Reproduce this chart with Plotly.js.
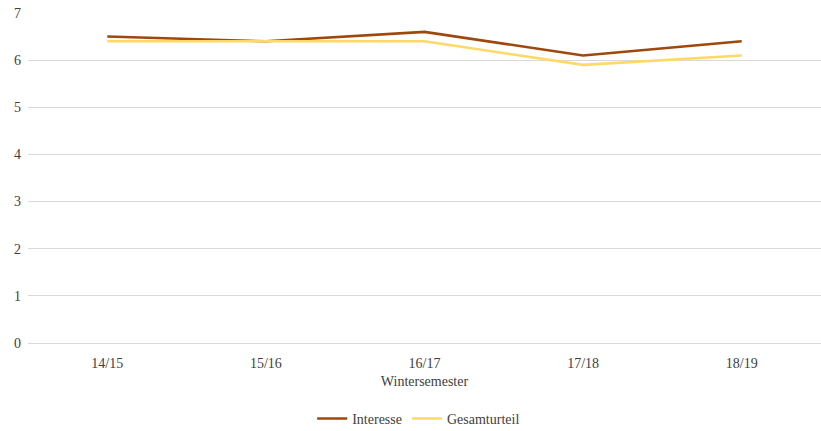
<!DOCTYPE html>
<html>
<head>
<meta charset="utf-8">
<script src="https://cdn.plot.ly/plotly-3.0.1.min.js"></script>
<style>html,body{margin:0;padding:0;background:#fff;}#chart{width:821px;height:431px;}</style>
</head>
<body>
<div id="chart"></div>
<script>
var categories = ["14/15", "15/16", "16/17", "17/18", "18/19"];
var interesse = [6.5, 6.4, 6.6, 6.1, 6.4];
var gesamturteil = [6.4, 6.4, 6.4, 5.9, 6.1];
var yTicks = [0, 1, 2, 3, 4, 5, 6, 7];

var font = {family: "Times New Roman, Liberation Serif, DejaVu Serif, serif", size: 14, color: "#404040"};

var traces = [
  {x: categories, y: interesse, name: "Interesse", type: "scatter", mode: "lines",
   line: {color: "#9E480E", width: 2.6}},
  {x: categories, y: gesamturteil, name: "Gesamturteil", type: "scatter", mode: "lines",
   line: {color: "#FFD966", width: 2.6}}
];

var layout = {
  width: 821, height: 431,
  margin: {l: 28, r: 0, t: 13, b: 88, autoexpand: false},
  paper_bgcolor: "#fff", plot_bgcolor: "#fff",
  font: font,
  showlegend: true,
  legend: {orientation: "h", x: 0.51, xref: "container", xanchor: "center",
           y: 0.028, yref: "container", yanchor: "middle",
           font: font, itemwidth: 30, tracegroupgap: 0},
  xaxis: {type: "category", range: [-0.5, 4.5], showgrid: false, zeroline: false,
          showline: false, ticks: "", tickfont: font, automargin: false,
          ticklabelstandoff: 10,
          title: {text: "Wintersemester", font: font, standoff: 6}},
  yaxis: {range: [0, 7], tickvals: yTicks, showgrid: true, gridcolor: "#d9d9d9",
          gridwidth: 1, zeroline: true, zerolinecolor: "#d9d9d9", zerolinewidth: 1,
          showline: false, ticks: "", tickfont: font, ticklabelstandoff: 6, automargin: false}
};

Plotly.newPlot("chart", traces, layout, {displayModeBar: false, staticPlot: true});
</script>
</body>
</html>
